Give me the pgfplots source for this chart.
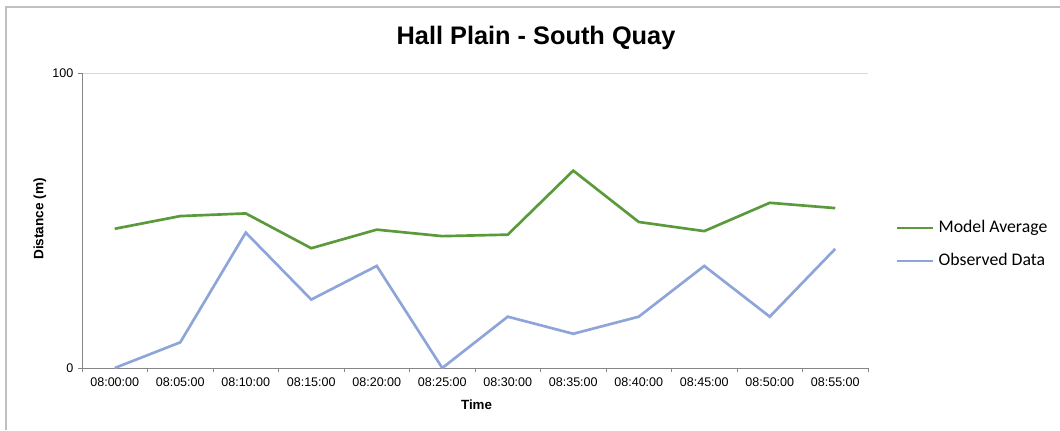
\documentclass[border=0pt]{standalone}
\usepackage{pgfplots}
\pgfplotsset{compat=1.18}
\usepackage{fontspec}
\setmainfont{Liberation Sans}
\newfontfamily\legendfont{Carlito}
\definecolor{modelgreen}{HTML}{5A9A3A}
\definecolor{obsblue}{HTML}{8EA5D9}
\definecolor{axisgrey}{HTML}{868686}
\definecolor{gridgrey}{HTML}{D9D9D9}
\definecolor{framegrey}{HTML}{C0C0C0}
\begin{document}
\begin{tikzpicture}[x=1pt,y=1pt]
\useasboundingbox (0,0) rectangle (795,322.5);
\draw[framegrey, line width=1.1pt] (4.5,0) -- (4.5,317.25) -- (795,317.25);
\begin{axis}[
  at={(61.5pt,46.5pt)}, anchor=south west,
  scale only axis, width=589.5pt, height=221.25pt,
  xmin=-0.5, xmax=11.5, ymin=0, ymax=100,
  xtick={0,...,11},
  xticklabels={08:00:00,08:05:00,08:10:00,08:15:00,08:20:00,08:25:00,08:30:00,08:35:00,08:40:00,08:45:00,08:50:00,08:55:00},
  minor xtick={-0.5,0.5,...,11.5},
  ytick={0,100},
  axis x line*=bottom, axis y line*=left,
  axis line style={axisgrey, line width=0.75pt, -},
  ymajorgrids, grid style={gridgrey, line width=0.75pt},
  tick align=outside,
  major tick length=3pt, minor tick length=3pt,
  major x tick style={draw=none},
  minor x tick style={axisgrey, line width=0.75pt},
  ytick style={axisgrey, line width=0.75pt},
  ticklabel style={font=\fontsize{9.4}{10}\selectfont, text=black},
  xticklabel style={yshift=-1pt},
  /pgf/number format/assume math mode=true,
  legend style={draw=none, fill=none, at={(1.0356,0.4186)}, anchor=west,
    inner sep=0pt, outer sep=0pt, row sep=12.75pt,
    font=\legendfont\fontsize{13.3}{14}\selectfont,
    nodes={inner sep=0pt, text height=9pt, text depth=3pt},
    /tikz/every odd column/.append style={column sep=3pt}},
  legend cell align=left,
  legend image code/.code={\draw (0pt,0pt) -- (27pt,0pt);},
]
\addplot[modelgreen, line width=2pt] coordinates {
(0,47.2) (1,51.5) (2,52.4) (3,40.6) (4,46.9) (5,44.7)
(6,45.2) (7,66.9) (8,49.5) (9,46.4) (10,56.0) (11,54.2)};
\addlegendentry{Model Average}
\addplot[obsblue, line width=2pt] coordinates {
(0,0) (1,8.7) (2,45.9) (3,23.2) (4,34.6) (5,0)
(6,17.4) (7,11.6) (8,17.4) (9,34.6) (10,17.4) (11,40.4)};
\addlegendentry{Observed Data}
\end{axis}
\node[anchor=base, font=\fontsize{19}{22}\selectfont\bfseries] at (402,289.3) {Hall Plain - South Quay};
\node[anchor=base, font=\fontsize{10}{12}\selectfont\bfseries] at (357.4,15.5) {Time};
\node[anchor=base, rotate=90, font=\fontsize{10.2}{12}\selectfont\bfseries] at (32.5,158.25) {Distance (m)};
\end{tikzpicture}
\end{document}
